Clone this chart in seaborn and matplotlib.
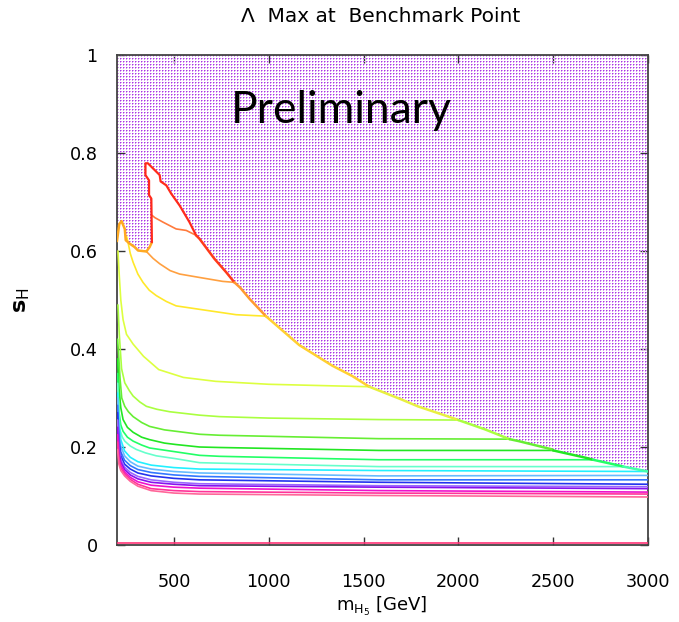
import numpy as np
import pandas as pd
import matplotlib
matplotlib.use("Agg")
import matplotlib.pyplot as plt
import seaborn as sns
from matplotlib.path import Path
from matplotlib.colors import to_rgba

# ---------------- data ----------------
x_ticks = [500, 1000, 1500, 2000, 2500, 3000]
y_ticks = [0, 0.2, 0.4, 0.6, 0.8, 1.0]
y_tick_labels = ["0", "0.2", "0.4", "0.6", "0.8", "1"]

# boundary of the excluded (dotted) region
bnd_left_m = [200, 205, 212, 224, 241, 246, 267, 293, 311, 355, 372, 384]
bnd_left_s = [0.62, 0.635, 0.655, 0.661, 0.645, 0.622, 0.615, 0.608, 0.601, 0.599, 0.608, 0.618]
bnd_peak_m = [384, 381, 369, 369, 350, 350, 363, 425, 430, 460, 486, 530, 582, 617]
bnd_peak_s = [0.618, 0.707, 0.714, 0.744, 0.755, 0.779, 0.779, 0.755, 0.742, 0.734, 0.717, 0.693, 0.659, 0.632]
bnd_slope_m = [617, 635, 714, 775, 819, 850, 900, 985, 1003, 1161, 1335, 1440, 1530, 1563, 1700, 1786,
               1963, 2000, 2140, 2270, 2318, 2495, 2500, 2672, 2710, 2850, 2870, 3000]
bnd_slope_s = [0.632, 0.625, 0.584, 0.557, 0.536, 0.525, 0.502, 0.467, 0.461, 0.408, 0.366, 0.345, 0.323,
               0.318, 0.297, 0.283, 0.260, 0.255, 0.236, 0.216, 0.212, 0.195, 0.193, 0.178, 0.174, 0.162,
               0.160, 0.150]

# contours inside the peak / upper region
c_orange1_m = [384, 400, 442, 512, 565, 617]
c_orange1_s = [0.673, 0.668, 0.659, 0.645, 0.642, 0.632]
c_orange2_m = [355, 390, 425, 480, 530, 635, 757, 819]
c_orange2_s = [0.599, 0.585, 0.574, 0.560, 0.553, 0.546, 0.538, 0.536]
c_yellow_m = [250, 258, 270, 285, 310, 337, 370, 407, 460, 512, 617, 740, 828, 985]
c_yellow_s = [0.630, 0.618, 0.595, 0.577, 0.553, 0.536, 0.520, 0.509, 0.497, 0.488, 0.482, 0.475, 0.470, 0.467]

c01_m = [205, 212, 220, 232, 250, 285, 340, 420, 550, 720, 1000, 1420, 1530]
c01_s = [0.60, 0.55, 0.50, 0.46, 0.43, 0.41, 0.385, 0.358, 0.342, 0.334, 0.328, 0.324, 0.323]
c02_m = [205, 212, 224, 241, 265, 285, 320, 355, 410, 477, 635, 740, 1000, 1580, 2000]
c02_s = [0.49, 0.43, 0.36, 0.331, 0.315, 0.304, 0.292, 0.283, 0.277, 0.272, 0.265, 0.262, 0.259, 0.256, 0.255]
c03_m = [203, 210, 216, 225, 241, 260, 285, 330, 372, 450, 512, 635, 740, 1580, 2270]
c03_s = [0.42, 0.38, 0.34, 0.30, 0.283, 0.272, 0.262, 0.250, 0.242, 0.235, 0.232, 0.226, 0.224, 0.217, 0.216]
c04_m = [203, 211, 220, 232, 255, 285, 330, 372, 450, 512, 635, 740, 1580, 2500]
c04_s = [0.38, 0.318, 0.28, 0.256, 0.240, 0.230, 0.220, 0.215, 0.208, 0.205, 0.200, 0.199, 0.193, 0.193]
c05_m = [203, 211, 220, 232, 255, 285, 330, 372, 512, 635, 740, 1580, 2710]
c05_s = [0.35, 0.27, 0.245, 0.232, 0.220, 0.212, 0.204, 0.198, 0.190, 0.183, 0.181, 0.174, 0.174]
c06_m = [203, 210, 215, 228, 241, 270, 302, 350, 407, 512, 635, 740, 1580, 2870]
c06_s = [0.33, 0.27, 0.236, 0.220, 0.212, 0.202, 0.195, 0.188, 0.182, 0.176, 0.168, 0.167, 0.160, 0.160]

low_m = [203, 210, 220, 240, 270, 310, 380, 500, 635, 1580, 3000]
c07_s = [0.31, 0.25, 0.215, 0.192, 0.179, 0.170, 0.163, 0.158, 0.155, 0.152, 0.150]
c08_s = [0.30, 0.235, 0.202, 0.182, 0.170, 0.161, 0.155, 0.150, 0.147, 0.141, 0.142]
c09_s = [0.285, 0.22, 0.190, 0.173, 0.162, 0.154, 0.148, 0.143, 0.140, 0.133, 0.133]
c10_s = [0.27, 0.21, 0.182, 0.165, 0.155, 0.147, 0.141, 0.136, 0.133, 0.128, 0.124]
c11_s = [0.255, 0.20, 0.175, 0.159, 0.148, 0.140, 0.133, 0.128, 0.125, 0.121, 0.119]
c12_s = [0.24, 0.19, 0.169, 0.154, 0.143, 0.135, 0.128, 0.124, 0.121, 0.118, 0.115]
c13_s = [0.225, 0.18, 0.163, 0.149, 0.138, 0.129, 0.122, 0.118, 0.116, 0.111, 0.108]
c14_s = [0.21, 0.172, 0.157, 0.145, 0.134, 0.124, 0.115, 0.111, 0.109, 0.106, 0.104]
c15_s = [0.195, 0.165, 0.152, 0.141, 0.130, 0.120, 0.111, 0.106, 0.104, 0.101, 0.098]

c_bottom_m = [200, 3000]
c_bottom_s = [0.005, 0.005]

# ---------------- styles ----------------
contours = [
    (c_orange1_m, c_orange1_s, "#ff7a3c"),
    (c_orange2_m, c_orange2_s, "#ffa040"),
    (c_yellow_m, c_yellow_s, "#ffe82a"),
    (c01_m, c01_s, "#ddff40"),
    (c02_m, c02_s, "#aaff40"),
    (c03_m, c03_s, "#66ee33"),
    (c04_m, c04_s, "#22e622"),
    (c05_m, c05_s, "#22ff66"),
    (c06_m, c06_s, "#66ffcc"),
    (low_m, c07_s, "#22f0ff"),
    (low_m, c08_s, "#66bbff"),
    (low_m, c09_s, "#3377ff"),
    (low_m, c10_s, "#2233ee"),
    (low_m, c11_s, "#9966ff"),
    (low_m, c12_s, "#8811ee"),
    (low_m, c13_s, "#ee11cc"),
    (low_m, c14_s, "#ff3399"),
    (low_m, c15_s, "#ff6699"),
    (c_bottom_m, c_bottom_s, "#ff3377"),
]

sns.set_theme(style="ticks")
plt.rcParams["font.family"] = ["DejaVu Sans"]
plt.rcParams["text.color"] = "black"

W, H = 679, 622
AX_L, AX_T, AX_W, AX_H = 117, 55, 531, 490
fig = plt.figure(figsize=(W / 100, H / 100), dpi=100)
ax = fig.add_axes([AX_L / W, 1 - (AX_T + AX_H) / H, AX_W / W, AX_H / H])
ax.set_xlim(200, 3000)
ax.set_ylim(0, 1)

# dotted excluded region, drawn as a pixel-exact dot texture
poly_m = [200] + bnd_left_m + bnd_peak_m[1:] + bnd_slope_m[1:] + [3000, 200]
poly_s = [bnd_left_s[0]] + bnd_left_s + bnd_peak_s[1:] + bnd_slope_s[1:] + [1.0, 1.0]
region = Path(np.column_stack([poly_m, poly_s]))
cols = np.arange(AX_W)
rows = np.arange(AX_H)
CC, RR = np.meshgrid(cols, rows)
pm = 200 + (CC + 0.5) * 2800 / AX_W
ps = 1 - (RR + 0.5) / AX_H
inside = region.contains_points(np.column_stack([pm.ravel(), ps.ravel()])).reshape(CC.shape)
img = np.zeros((AX_H, AX_W, 4))
dark = (RR % 3 == 0) & (CC % 3 == 0)
light = ((RR % 3 == 1) & (CC % 3 == 0)) | ((RR % 3 == 0) & (CC % 3 == 1))
img[inside & light] = to_rgba("#d89cf2")
img[inside & dark] = to_rgba("#a838e4")
ax.imshow(img, extent=(200, 3000, 0, 1), origin="upper", aspect="auto",
          interpolation="nearest", zorder=1)

# contour lines
for m, s, col in contours:
    df = pd.DataFrame({"m": m, "s": s})
    sns.lineplot(data=df, x="m", y="s", sort=False, estimator=None, color=col,
                 lw=1.2, ax=ax, zorder=3)

# boundary, coloured by the contour that runs along it
sns.lineplot(x=bnd_left_m, y=bnd_left_s, sort=False, estimator=None, color="#ffaa22",
             lw=1.8, ax=ax, zorder=4)
sns.lineplot(x=bnd_peak_m, y=bnd_peak_s, sort=False, estimator=None, color="#ff2a1a",
             lw=1.6, ax=ax, zorder=4)
seg_ends = [c_orange2_m[-1], c_yellow_m[-1], c01_m[-1], c02_m[-1], c03_m[-1],
            c04_m[-1], c05_m[-1], c06_m[-1], 3000]
seg_cols = ["#ff3a1a", "#ff9a30", "#ffd030", "#e8f040", "#aaff40", "#66ee33",
            "#22e622", "#22ff66", "#44ffaa"]
bm = np.array(bnd_slope_m)
bs = np.array(bnd_slope_s)
start = bm[0]
for end, col in zip(seg_ends, seg_cols):
    sel = (bm >= start) & (bm <= end)
    sns.lineplot(x=bm[sel], y=bs[sel], sort=False, estimator=None, color=col,
                 lw=1.8, ax=ax, zorder=4)
    start = end

ax.set_xlim(200, 3000)
ax.set_ylim(0, 1)

# axes styling
ax.set_xticks(x_ticks)
ax.set_xticklabels([str(v) for v in x_ticks])
ax.set_yticks(y_ticks)
ax.set_yticklabels(y_tick_labels)
ax.tick_params(direction="in", top=True, right=True, length=6, width=1,
               color="#333333", labelsize=12.7, labelcolor="black")
ax.tick_params(axis="x", pad=20)
ax.tick_params(axis="y", pad=14)
for sp in ax.spines.values():
    sp.set_color("#444444")
    sp.set_linewidth(1.3)
ax.set_xlabel("")
ax.set_ylabel("")

fig.text(382 / W, 1 - 606 / H, r"$\mathrm{m}_{\mathrm{H}_5}$ [GeV]", ha="center",
         va="center", fontsize=13, color="black")
fig.text(22 / W, 1 - 300 / H, r"$\mathbf{s}_{\mathrm{H}}$", ha="center", va="center",
         rotation=90, fontsize=16, color="black")
fig.text(381 / W, 1 - 17 / H, "Λ  Max at  Benchmark Point", ha="center", va="center",
         fontsize=14.5, color="black")
ax.text(803, 0.861, "Preliminary", fontsize=32, family=["Lato", "DejaVu Sans"],
        ha="left", va="baseline", color="black", zorder=6)

fig.savefig("out.png", dpi=100)
